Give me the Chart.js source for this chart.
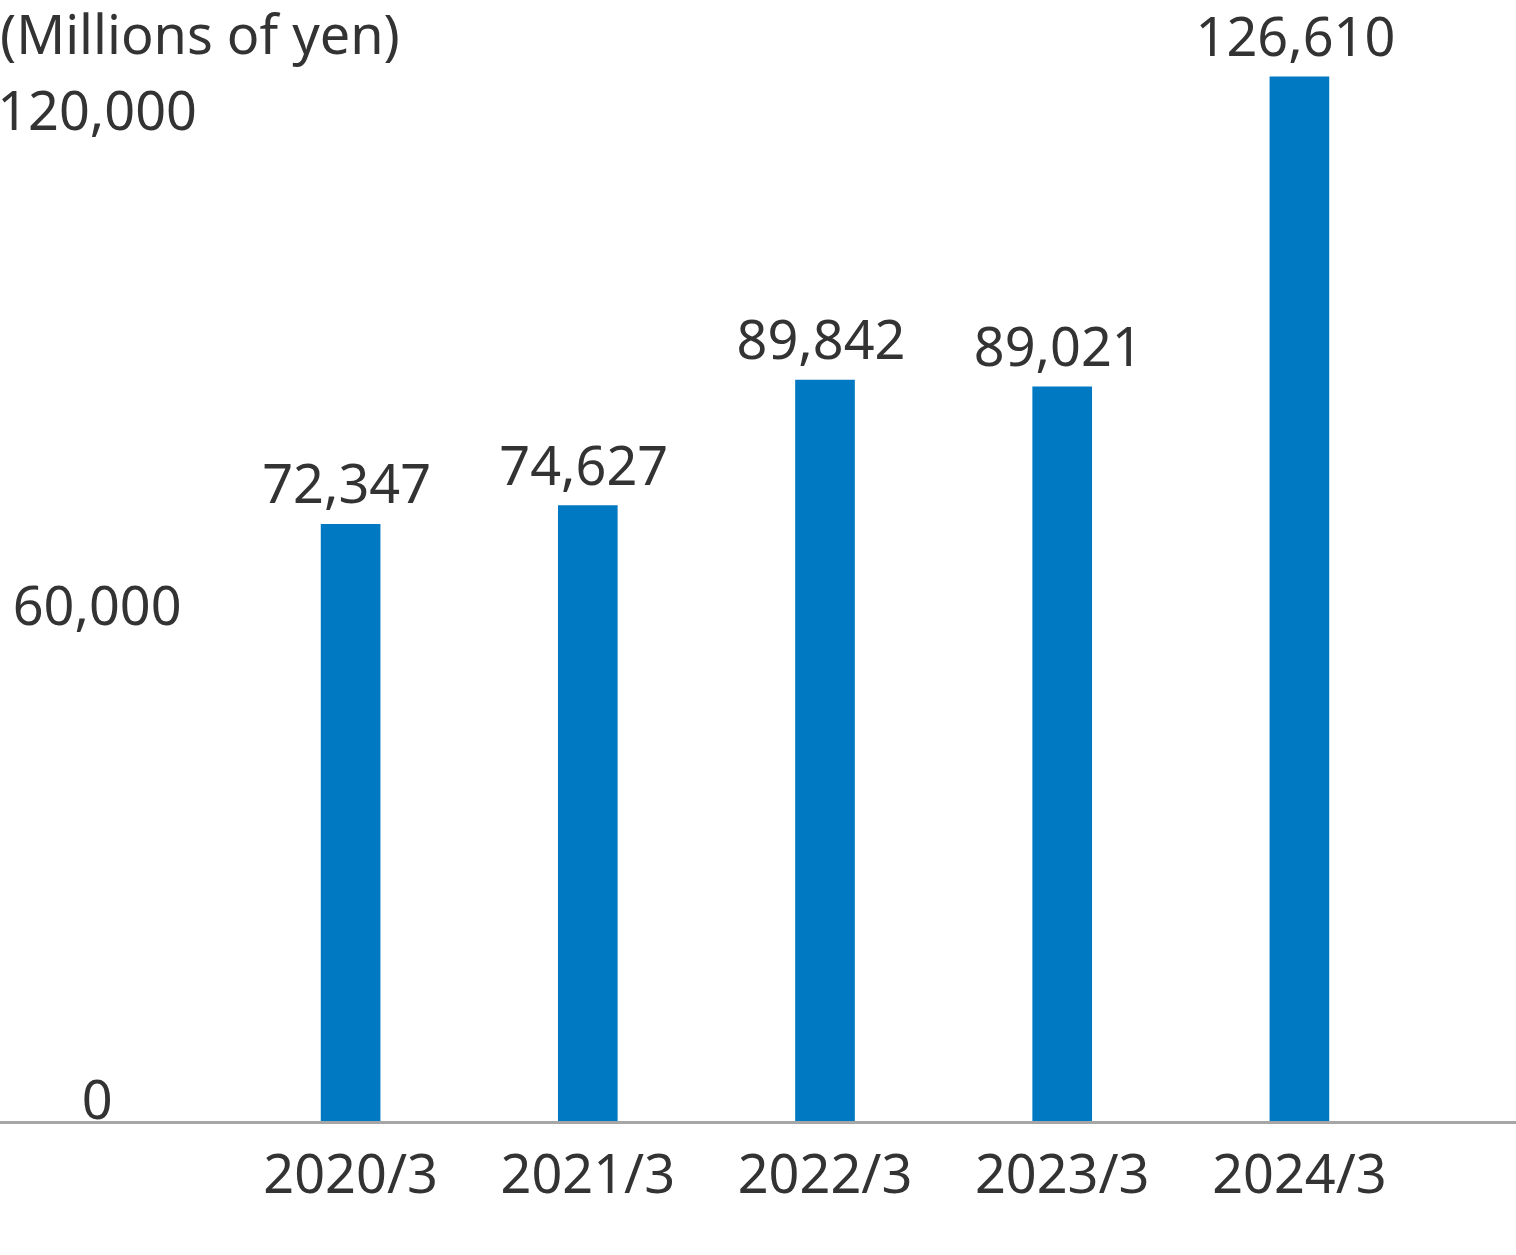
<!DOCTYPE html>
<html>
<head>
  <meta charset="UTF-8" />
  <title>Millions of yen</title>
  <script src="https://cdn.jsdelivr.net/npm/chart.js"></script>
  <style>
    body { margin: 0; background: #fff; }
    #wrap { width: 1516px; height: 1255px; }
  </style>
</head>
<body>
<div id="wrap"><canvas id="salesChart"></canvas></div>

<script>
  const years = ['2020/3', '2021/3', '2022/3', '2023/3', '2024/3'];
  const amounts = [72347, 74627, 89842, 89021, 126610];
  const yTicks = [0, 60000, 120000];
  const unitLabel = '(Millions of yen)';

  const textColor = '#333333';
  const fontFamily = '"Noto Sans", sans-serif';

  // value labels above each bar
  const valueLabels = {
    id: 'valueLabels',
    afterDatasetsDraw(chart) {
      const ctx = chart.ctx;
      const meta = chart.getDatasetMeta(0);
      ctx.save();
      ctx.fillStyle = textColor;
      ctx.font = '54px ' + fontFamily;
      ctx.textAlign = 'center';
      ctx.textBaseline = 'alphabetic';
      meta.data.forEach((bar, i) => {
        ctx.fillText(amounts[i].toLocaleString('en-US'), bar.x - 4, bar.y - 21);
      });
      ctx.restore();
    }
  };

  // grey baseline across the whole width
  const baseLine = {
    id: 'baseLine',
    afterDatasetsDraw(chart) {
      const ctx = chart.ctx;
      const y0 = chart.scales.y.getPixelForValue(0);
      ctx.save();
      ctx.fillStyle = '#a6a6a6';
      ctx.fillRect(0, Math.round(y0), chart.width, 3);
      ctx.restore();
    }
  };

  const chart = new Chart(document.getElementById('salesChart'), {
    type: 'bar',
    data: {
      labels: years,
      datasets: [{
        data: amounts,
        backgroundColor: '#0079c2',
        barThickness: 59
      }]
    },
    options: {
      responsive: true,
      maintainAspectRatio: false,
      animation: false,
      layout: { padding: { left: 0, right: 98, top: 0, bottom: 0 } },
      plugins: {
        legend: { display: false },
        tooltip: { enabled: false },
        title: {
          display: true,
          text: unitLabel,
          align: 'start',
          color: textColor,
          font: { family: fontFamily, size: 54, weight: 'normal', lineHeight: 1.2 },
          padding: { top: 6, bottom: 0 }
        }
      },
      scales: {
        x: {
          grid: { display: false, drawTicks: false },
          border: { display: false },
          ticks: {
            color: textColor,
            font: { family: fontFamily, size: 54 },
            padding: 24,
            maxRotation: 0
          },
          afterFit(scale) { scale.height = 134; }
        },
        y: {
          min: 0,
          max: 127340,
          grid: { display: false, drawTicks: false },
          border: { display: false },
          afterBuildTicks(scale) {
            scale.ticks = yTicks.map(v => ({ value: v }));
          },
          ticks: {
            color: textColor,
            font: { family: fontFamily, size: 54 },
            crossAlign: 'center',
            padding: 35,
            labelOffset: -17,
            callback: v => v.toLocaleString('en-US')
          },
          afterFit(scale) { scale.width = 232; }
        }
      }
    },
    plugins: [valueLabels, baseLine]
  });
</script>
</body>
</html>
